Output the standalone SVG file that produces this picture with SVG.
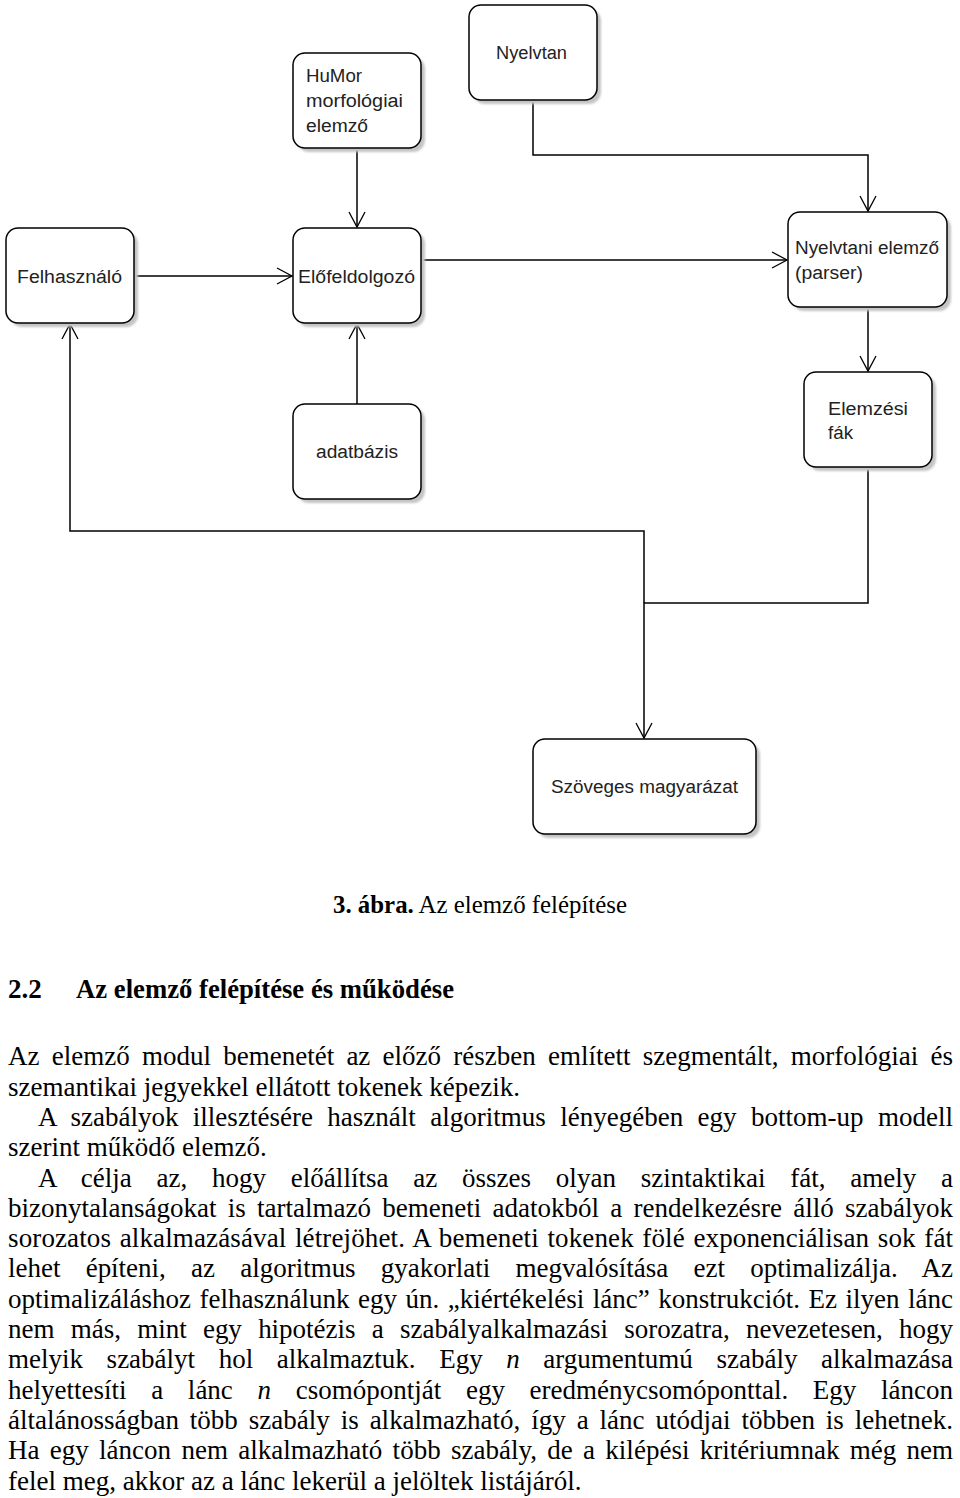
<svg xmlns="http://www.w3.org/2000/svg" width="960" height="1498" viewBox="0 0 960 1498">
<style>
.box{fill:#fff;stroke:#000;stroke-width:1.5}
.sh{fill:#c4c4c4;filter:url(#blur)}
.lbl{font-family:"Liberation Sans",Arial,sans-serif;font-size:18px;fill:#222}
.con{fill:none;stroke:#000;stroke-width:1.5;marker-end:url(#arr)}
.body{font-family:"Liberation Serif","Times New Roman",serif;font-size:27px;fill:#000}
</style>
<defs>
<filter id="blur" x="-10%" y="-10%" width="120%" height="120%"><feGaussianBlur stdDeviation="1.2"/></filter>
<marker id="arr" markerUnits="userSpaceOnUse" viewBox="-17 -10 19 20" markerWidth="19" markerHeight="20" refX="0" refY="0" orient="auto">
<path d="M-15,-8 L0,0 L-15,8" fill="none" stroke="#000" stroke-width="1.3"/>
</marker>
</defs>
<rect width="960" height="1498" fill="#fff"/>

<g id="connectors">
<path class="con" d="M357,148 V227"/>
<path class="con" d="M134,276 H292"/>
<path class="con" d="M421,260 H787"/>
<path class="con" d="M533,100 V155 H868 V211"/>
<path class="con" d="M868,307 V371"/>
<path class="con" d="M357,404 V324"/>
<path class="con" d="M868,467 V603 H644 V738"/>
<path class="con" d="M644,603 V531 H70 V324"/>
</g>

<g id="humor">
<rect class="sh" x="297" y="57" width="128" height="95" rx="12"/>
<rect class="box" x="293" y="53" width="128" height="95" rx="12"/>
<text class="lbl" x="306" y="82" textLength="56" lengthAdjust="spacingAndGlyphs">HuMor</text>
<text class="lbl" x="306" y="107" textLength="97" lengthAdjust="spacingAndGlyphs">morfológiai</text>
<text class="lbl" x="306" y="132" textLength="62" lengthAdjust="spacingAndGlyphs">elemző</text>
</g>

<g id="nyelvtan">
<rect class="sh" x="473" y="9" width="128" height="95" rx="12"/>
<rect class="box" x="469" y="5" width="128" height="95" rx="12"/>
<text class="lbl" x="496" y="59" textLength="71" lengthAdjust="spacingAndGlyphs">Nyelvtan</text>
</g>

<g id="felhasznalo">
<rect class="sh" x="10" y="232" width="128" height="95" rx="12"/>
<rect class="box" x="6" y="228" width="128" height="95" rx="12"/>
<text class="lbl" x="17" y="283" textLength="105" lengthAdjust="spacingAndGlyphs">Felhasználó</text>
</g>

<g id="elofeldolgozo">
<rect class="sh" x="297" y="232" width="128" height="95" rx="12"/>
<rect class="box" x="293" y="228" width="128" height="95" rx="12"/>
<text class="lbl" x="298" y="283" textLength="117" lengthAdjust="spacingAndGlyphs">Előfeldolgozó</text>
</g>

<g id="nyelvtani-elemzo">
<rect class="sh" x="792" y="216" width="159" height="95" rx="12"/>
<rect class="box" x="788" y="212" width="159" height="95" rx="12"/>
<text class="lbl" x="795" y="254" textLength="144" lengthAdjust="spacingAndGlyphs">Nyelvtani elemző</text>
<text class="lbl" x="795" y="279" textLength="68" lengthAdjust="spacingAndGlyphs">(parser)</text>
</g>

<g id="elemzesi-fak">
<rect class="sh" x="808" y="376" width="128" height="95" rx="12"/>
<rect class="box" x="804" y="372" width="128" height="95" rx="12"/>
<text class="lbl" x="828" y="415" textLength="80" lengthAdjust="spacingAndGlyphs">Elemzési</text>
<text class="lbl" x="828" y="439" textLength="25" lengthAdjust="spacingAndGlyphs">fák</text>
</g>

<g id="adatbazis">
<rect class="sh" x="297" y="408" width="128" height="95" rx="12"/>
<rect class="box" x="293" y="404" width="128" height="95" rx="12"/>
<text class="lbl" x="316" y="458" textLength="82" lengthAdjust="spacingAndGlyphs">adatbázis</text>
</g>

<g id="szoveges-magyarazat">
<rect class="sh" x="537" y="743" width="223" height="95" rx="12"/>
<rect class="box" x="533" y="739" width="223" height="95" rx="12"/>
<text class="lbl" x="551" y="793" textLength="187" lengthAdjust="spacingAndGlyphs">Szöveges magyarázat</text>
</g>

<g id="caption">
<text class="body" x="333" y="913" style="font-size:24.5px" textLength="294" lengthAdjust="spacingAndGlyphs"><tspan font-weight="bold">3. ábra.</tspan> Az elemző felépítése</text>
</g>

<g id="heading">
<text class="body" x="8" y="998" font-weight="bold">2.2</text>
<text class="body" x="76" y="998" font-weight="bold" textLength="378" lengthAdjust="spacingAndGlyphs">Az elemző felépítése és működése</text>
</g>

<g id="paragraph">
<text class="body" x="8" y="1065.4" word-spacing="5.5" textLength="945" lengthAdjust="spacing">Az elemző modul bemenetét az előző részben említett szegmentált, morfológiai és</text>
<text class="body" x="8" y="1095.7">szemantikai jegyekkel ellátott tokenek képezik.</text>
<text class="body" x="38" y="1126" word-spacing="7.6" textLength="915" lengthAdjust="spacing">A szabályok illesztésére használt algoritmus lényegében egy bottom-up modell</text>
<text class="body" x="8" y="1156.3">szerint működő elemző.</text>
<text class="body" x="38" y="1186.6" word-spacing="17.9" textLength="915" lengthAdjust="spacing">A célja az, hogy előállítsa az összes olyan szintaktikai fát, amely a</text>
<text class="body" x="8" y="1216.9" word-spacing="4.5" textLength="945" lengthAdjust="spacing">bizonytalanságokat is tartalmazó bemeneti adatokból a rendelkezésre álló szabályok</text>
<text class="body" x="8" y="1247.1" word-spacing="1.7" textLength="945" lengthAdjust="spacing">sorozatos alkalmazásával létrejöhet. A bemeneti tokenek fölé exponenciálisan sok fát</text>
<text class="body" x="8" y="1277.4" word-spacing="18.5" textLength="945" lengthAdjust="spacing">lehet építeni, az algoritmus gyakorlati megvalósítása ezt optimalizálja. Az</text>
<text class="body" x="8" y="1307.7" word-spacing="1.8" textLength="945" lengthAdjust="spacing">optimalizáláshoz felhasználunk egy ún. „kiértékelési lánc” konstrukciót. Ez ilyen lánc</text>
<text class="body" x="8" y="1338" word-spacing="9.6" textLength="945" lengthAdjust="spacing">nem más, mint egy hipotézis a szabályalkalmazási sorozatra, nevezetesen, hogy</text>
<text class="body" x="8" y="1368.3" word-spacing="16.8" textLength="945" lengthAdjust="spacing">melyik szabályt hol alkalmaztuk. Egy <tspan font-style="italic">n</tspan> argumentumú szabály alkalmazása</text>
<text class="body" x="8" y="1398.6" word-spacing="18" textLength="945" lengthAdjust="spacing">helyettesíti a lánc <tspan font-style="italic">n</tspan> csomópontját egy eredménycsomóponttal. Egy láncon</text>
<text class="body" x="8" y="1428.9" word-spacing="4.2" textLength="945" lengthAdjust="spacing">általánosságban több szabály is alkalmazható, így a lánc utódjai többen is lehetnek.</text>
<text class="body" x="8" y="1459.2" word-spacing="3.5" textLength="945" lengthAdjust="spacing">Ha egy láncon nem alkalmazható több szabály, de a kilépési kritériumnak még nem</text>
<text class="body" x="8" y="1489.5">felel meg, akkor az a lánc lekerül a jelöltek listájáról.</text>
</g>
</svg>
